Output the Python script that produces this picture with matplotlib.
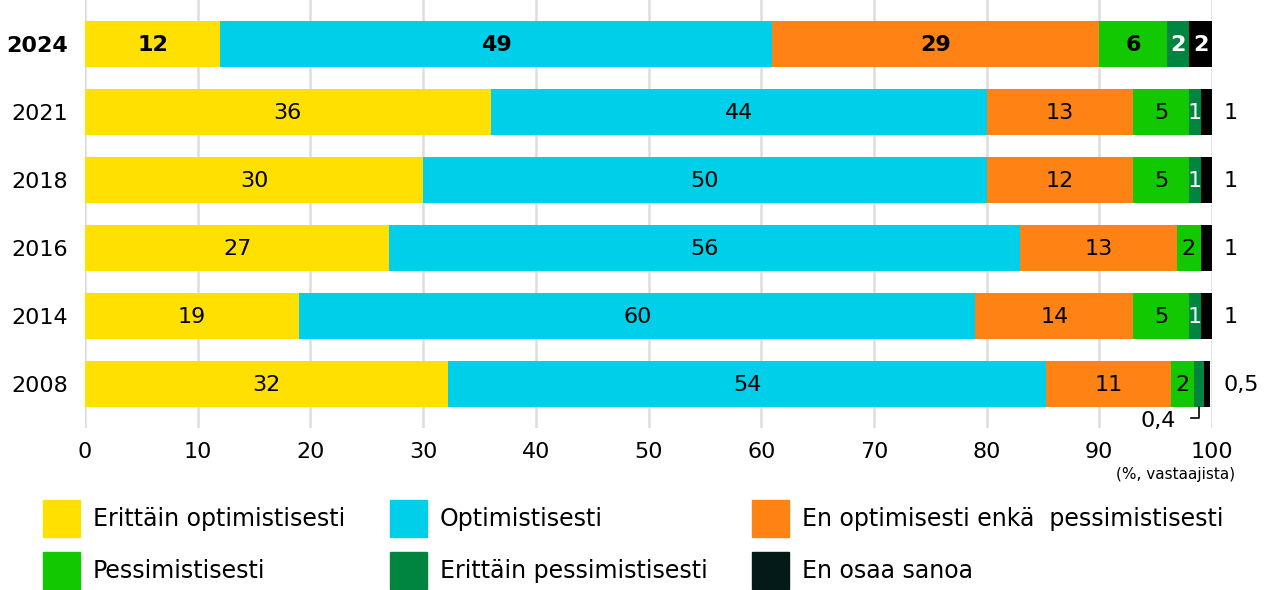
import matplotlib
matplotlib.use("Agg")
import matplotlib.pyplot as plt
from matplotlib.patches import Rectangle
from matplotlib.lines import Line2D

plt.rcParams['font.family'] = ['DejaVu Sans']

years = ["2024", "2021", "2018", "2016", "2014", "2008"]
series = ["Erittäin optimistisesti", "Optimistisesti",
          "En optimisesti enkä  pessimistisesti", "Pessimistisesti",
          "Erittäin pessimistisesti", "En osaa sanoa"]
colors = ["#FFE000", "#00CFEA", "#FF8214", "#12C800", "#008540", "#000000"]
legend_colors = ["#FFE000", "#00CFEA", "#FF8214", "#12C800", "#008540", "#031A18"]

# drawn widths per series (rows follow `years`)
very_opt = [12, 36, 30, 27, 19, 32.2]
opt = [49, 44, 50, 56, 60, 53.1]
neutral = [29, 13, 13, 13.9, 14, 11.1]
pess = [6, 5, 5, 2.1, 5, 2.0]
very_pess = [2, 1, 1, 0, 1, 0.9]
dont_know = [2, 1, 1, 1.1, 1, 0.5]
values = [very_opt, opt, neutral, pess, very_pess, dont_know]

# labels as printed
lab_very_opt = ["12", "36", "30", "27", "19", "32"]
lab_opt = ["49", "44", "50", "56", "60", "54"]
lab_neutral = ["29", "13", "12", "13", "14", "11"]
lab_pess = ["6", "5", "5", "2", "5", "2"]
lab_very_pess = ["2", "1", "1", "", "1", ""]
lab_dont_know = ["2", "", "", "", "", ""]
labels = [lab_very_opt, lab_opt, lab_neutral, lab_pess, lab_very_pess, lab_dont_know]
outside_labels = ["", "1", "1", "1", "1", "0,5"]
x_ticks = [0, 10, 20, 30, 40, 50, 60, 70, 80, 90, 100]

NUM_FS = 16
W, H = 1274, 590
fig = plt.figure(figsize=(W / 100, H / 100), dpi=100)
ax = fig.add_axes([85 / W, 1 - 428 / H, (1212 - 85) / W, 428 / H])

ypos = list(range(len(years)))
left = [0.0] * len(years)
text_col = ["black", "black", "black", "black", "white", "white"]
for si, (vals, col) in enumerate(zip(values, colors)):
    ax.barh(ypos, vals, left=left, height=0.676, color=col, zorder=3)
    for i, v in enumerate(vals):
        lab = labels[si][i]
        if lab:
            bold = (i == 0)
            ax.text(left[i] + v / 2, ypos[i] + 0.02, lab, ha="center", va="center",
                    color=text_col[si], fontsize=NUM_FS,
                    fontweight="bold" if bold else "normal", zorder=4)
    left = [l + v for l, v in zip(left, vals)]

for i, lab in enumerate(outside_labels):
    if lab:
        ax.text(101, ypos[i] + 0.02, lab, ha="left", va="center", fontsize=NUM_FS,
                clip_on=False)

# 0,4 annotation with leader line for 2008
i08 = years.index("2008")
x_dp = left[i08] - dont_know[i08] - very_pess[i08] / 2
ax.add_line(Line2D([x_dp, x_dp, x_dp - 0.7], [i08 + 0.338, i08 + 0.5, i08 + 0.5],
                   color="black", lw=1.2, clip_on=False, zorder=4))
ax.text(x_dp - 3.6, i08 + 0.55, "0,4", ha="center", va="center", fontsize=NUM_FS,
        clip_on=False)

ax.set_xlim(0, 100)
ax.set_ylim(len(years) - 1 + 0.647, -0.647)
ax.set_yticks(ypos)
ax.set_yticklabels(years, fontsize=NUM_FS)
ax.get_yticklabels()[0].set_fontweight("bold")
ax.set_xticks(x_ticks)
ax.set_xticklabels([str(t) for t in x_ticks], fontsize=NUM_FS)
ax.tick_params(axis="both", length=0)
ax.tick_params(axis="x", pad=10)
ax.tick_params(axis="y", pad=12)
ax.xaxis.grid(True, color="#DDDDDD", lw=1.8, zorder=0)
for s in ax.spines.values():
    s.set_visible(False)

fig.text(1235 / W, 1 - 474 / H, "(%, vastaajista)", ha="right", va="center",
         fontsize=11)

# legend (3 columns, 2 rows)
col_x = [43, 390, 752]
row_y = [500, 552]
for k, (name, col) in enumerate(zip(series, legend_colors)):
    r, c = divmod(k, 3)
    x0, y0 = col_x[c], row_y[r]
    fig.add_artist(Rectangle((x0 / W, 1 - (y0 + 37) / H), 37 / W, 37 / H,
                             transform=fig.transFigure, color=col))
    fig.text((x0 + 50) / W, 1 - (y0 + 19) / H, name, ha="left", va="center",
             fontsize=17)

fig.savefig("out.png", dpi=100)
